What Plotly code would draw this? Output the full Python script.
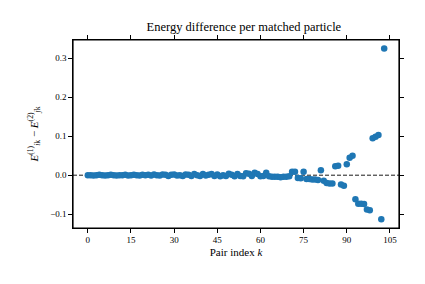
import plotly.graph_objects as go

pair_index = list(range(104))
energy_diff = [
    0.000, 0.000, -0.001, 0.000, 0.001, 0.000, -0.001, 0.000, 0.001, 0.000,
    -0.001, 0.000, 0.000, 0.001, -0.001, 0.000, 0.001, 0.000, -0.001, 0.001,
    0.000, 0.001, -0.001, 0.002, 0.000, -0.001, 0.002, 0.001, -0.002, 0.001,
    0.002, -0.001, 0.000, -0.002, 0.002, 0.001, -0.002, 0.003, 0.000, -0.002,
    0.003, -0.001, 0.001, 0.003, -0.002, 0.002, -0.003, 0.000, -0.002, 0.004,
    0.001, -0.003, 0.003, -0.002, -0.003, 0.005, 0.004, -0.002, 0.006, 0.003,
    -0.003, -0.002, 0.006, -0.003, -0.004, -0.004, -0.004, -0.005, -0.004, -0.004,
    -0.003, 0.009, 0.009, -0.007, -0.008, 0.009, -0.010, -0.010, -0.011, -0.011,
    -0.012, 0.013, -0.014, -0.020, -0.021, -0.021, 0.023, 0.024, -0.024, -0.027,
    0.028, 0.045, 0.050, -0.062, -0.073, -0.073, -0.074, -0.088, -0.090, 0.095,
    0.099, 0.103, -0.113, 0.325,
]
x_ticks = [0, 15, 30, 45, 60, 75, 90, 105]
y_ticks = [-0.1, 0.0, 0.1, 0.2, 0.3]
y_tick_labels = ["\u22120.1", "0.0", "0.1", "0.2", "0.3"]

font_family = "Liberation Serif, DejaVu Serif, serif"

fig = go.Figure()
fig.add_trace(go.Scatter(
    x=pair_index, y=energy_diff, mode="markers",
    marker=dict(color="#1f77b4", size=6.5, line=dict(width=0)),
    showlegend=False,
))
fig.add_shape(type="line", xref="paper", yref="y", x0=0, x1=1, y0=0, y1=0,
              line=dict(color="black", width=0.9, dash="4px,2px"), layer="below")
fig.add_shape(type="rect", xref="paper", yref="paper", x0=0, x1=1, y0=0, y1=1,
              line=dict(color="black", width=1.2), fillcolor="rgba(0,0,0,0)")

axis_common = dict(
    showgrid=False, zeroline=False, showline=True, linecolor="#000000", linewidth=1.2,
    mirror="ticks", ticks="outside", ticklen=3.5, tickwidth=1.2, tickcolor="#000000",
    tickfont=dict(family=font_family, size=9, color="black"),
)
fig.update_layout(
    width=425, height=284,
    margin=dict(l=65, r=34, t=32, b=64),
    paper_bgcolor="white", plot_bgcolor="white",
    title=dict(text="Energy difference per matched particle", x=0.555, xanchor="center",
               y=1 - 19 / 284, yanchor="middle",
               font=dict(family=font_family, size=12.5, color="black")),
    xaxis=dict(range=[-5.15, 108.15], tickvals=x_ticks,
               title=dict(text="Pair index <i>k</i>", standoff=3,
                          font=dict(family=font_family, size=11, color="black")),
               **axis_common),
    yaxis=dict(range=[-0.1355, 0.347], tickvals=y_ticks, ticktext=y_tick_labels,
               title=dict(text="<i>E</i><sup>(1)</sup><sub><i>i</i>k</sub> \u2212 <i>E</i><sup>(2)</sup><sub><i>j</i>k</sub>",
                          standoff=9,
                          font=dict(family=font_family, size=11, color="black")),
               **axis_common),
)
fig.write_html("out.html")
